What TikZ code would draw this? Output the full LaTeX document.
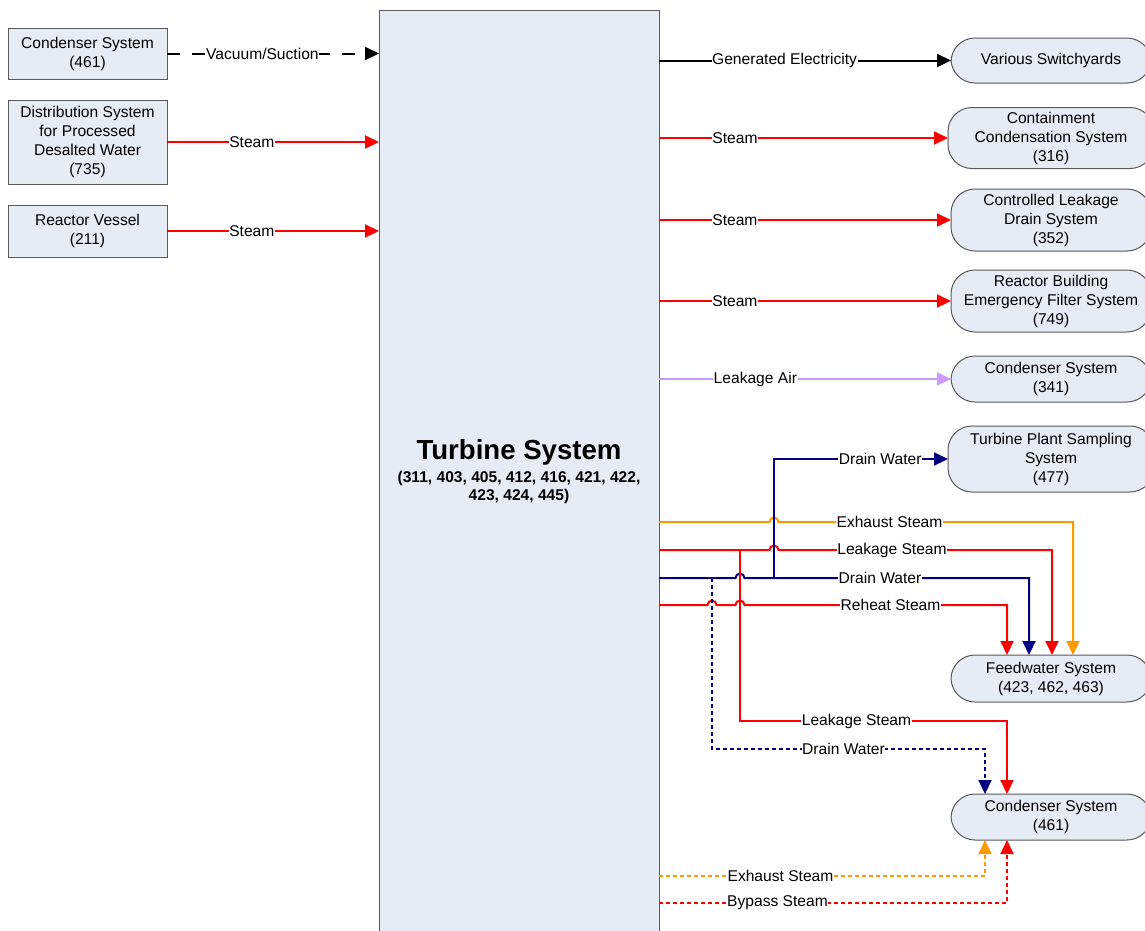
\documentclass[tikz,border=0pt]{standalone}
\usepackage{fontspec}
\setmainfont{Liberation Sans}
\usetikzlibrary{arrows.meta}
\definecolor{boxfill}{HTML}{E6ECF6}
\definecolor{boxline}{HTML}{5A5A5A}
\definecolor{navy}{HTML}{000080}
\definecolor{amber}{HTML}{FF9900}
\definecolor{lilac}{HTML}{CC99FF}

\begin{document}
\begin{tikzpicture}[x=1pt,y=-1pt,
    every node/.style={font=\fontsize{15.6}{19}\selectfont},
    sysbox/.style={draw=boxline,fill=boxfill,line width=1pt,align=center,
        minimum width=159pt,inner sep=0pt,outer sep=0pt},
    sysround/.style={sysbox,rounded corners=24pt,minimum width=200pt},
    lbl/.style={fill=white,text=black,inner sep=0.6pt},
    flow/.style={line width=2pt,-{Triangle[length=14pt,width=13pt]}},
    dotty/.style={dash pattern=on 4pt off 3pt}]
    \fill[white] (0,0) rectangle (1145,930);
    \useasboundingbox (0,0) rectangle (1145,930);

    % turbine
    \node[sysbox,minimum width=280pt,minimum height=940pt] (turb) at (519,480) {};
    \node (ttl) at (519,452) {\fontsize{27.6}{30}\selectfont\bfseries Turbine System};
    \node[align=center,font=\fontsize{15.6}{18}\selectfont\bfseries] (tnum) at (519,487) {(311, 403, 405, 412, 416, 421, 422,\\423, 424, 445)};

    % inputs
    \node[sysbox,minimum height=51pt] (cin) at (87.5,53.5) {Condenser System\\(461)};
    \node[sysbox,minimum height=84pt] (dist) at (87.5,142) {Distribution System\\for Processed\\Desalted Water\\(735)};
    \node[sysbox,minimum height=52pt] (rv) at (87.5,231) {Reactor Vessel\\(211)};

    \draw[flow,dash pattern=on 13pt off 12pt] (cin) -- node[lbl,pos=0.45] (lvac) {Vacuum/Suction} (turb.west |- cin);
    \draw[flow,red] (dist) -- node[lbl,pos=0.4] (lst1) {Steam} (turb.west |- dist);
    \draw[flow,red] (rv) -- node[lbl,pos=0.4] (lst2) {Steam} (turb.west |- rv);

    % outputs
    \node[sysround,minimum height=45pt] (swy) at (1051,60.5) {Various Switchyards};
    \node[sysround,minimum width=206pt,minimum height=61pt] (ccs) at (1051,138) {Containment\\Condensation System\\(316)};
    \node[sysround,minimum height=62pt] (cld) at (1051,220) {Controlled Leakage\\Drain System\\(352)};
    \node[sysround,minimum height=62pt] (rbe) at (1051,301) {Reactor Building\\Emergency Filter System\\(749)};
    \node[sysround,minimum height=46pt] (cda) at (1051,379) {Condenser System\\(341)};
    \node[sysround,minimum width=206pt,minimum height=66pt] (tps) at (1051,459) {Turbine Plant Sampling\\System\\(477)};
    \node[sysround,minimum height=47pt] (fws) at (1051,678.5) {Feedwater System\\(423, 462, 463)};
    \node[sysround,minimum height=46pt] (cdb) at (1051,817) {Condenser System\\(461)};

    \draw[flow] (turb.east |- swy) -- node[lbl,pos=0.43] (lgen) {Generated Electricity} (swy);
    \draw[flow,red] (turb.east |- ccs) -- node[lbl,pos=0.263] (lst3) {Steam} (ccs);
    \draw[flow,red] (turb.east |- cld) -- node[lbl,pos=0.26] (lst4) {Steam} (cld);
    \draw[flow,red] (turb.east |- rbe) -- node[lbl,pos=0.26] (lst5) {Steam} (rbe);
    \draw[flow,lilac] (turb.east |- cda) -- node[lbl,pos=0.33] (lair) {Leakage Air} (cda);

    % to feedwater, with hops
    \draw[flow,amber] (turb.east |- 0,522) -- (769.5,522) arc[start angle=180,end angle=0,radius=4.5pt] -- (1073,522) -- (1073,0 |- fws.north);
    \draw[flow,red] (turb.east |- 0,550) -- (769.5,550) arc[start angle=180,end angle=0,radius=4.5pt] -- (1052,550) -- (1052,0 |- fws.north);
    \draw[flow,navy] (turb.east |- 0,578) -- (735.5,578) arc[start angle=180,end angle=0,radius=4.5pt] -- (1029,578) -- (1029,0 |- fws.north);
    \draw[flow,red] (turb.east |- 0,605) -- (707.5,605) arc[start angle=180,end angle=0,radius=4.5pt] -- (735.5,605) arc[start angle=180,end angle=0,radius=4.5pt] -- (1007,605) -- (1007,0 |- fws.north);

    % branches
    \coordinate (dj) at (774,578);
    \coordinate (lj) at (740,550);
    \coordinate (dk) at (712,578);
    \draw[flow,navy] (dj) |- node[lbl,pos=0.805] (ldw1) {Drain Water} (tps);
    \draw[flow,red] (lj) |- (1007,721) -- (1007,0 |- cdb.north);
    \draw[flow,navy,dotty] (dk) |- (985,749) -- (985,0 |- cdb.north);

    % to condenser from below
    \draw[flow,amber,dotty] (turb.east |- 0,876) -| (985,0 |- cdb.south);
    \draw[flow,red,dotty] (turb.east |- 0,903) -| (1007,0 |- cdb.south);

    \node[lbl] (lexh1) at (889.5,522) {Exhaust Steam};
    \node[lbl] (llk1) at (892,550) {Leakage Steam};
    \node[lbl] (ldw2) at (880,578) {Drain Water};
    \node[lbl] (lrh) at (890.5,605) {Reheat Steam};
    \node[lbl] (llk2) at (856.5,721) {Leakage Steam};
    \node[lbl] (ldw3) at (843.5,749) {Drain Water};
    \node[lbl] (lexh2) at (780.5,876) {Exhaust Steam};
    \node[lbl] (lbyp) at (777.5,903) {Bypass Steam};
\end{tikzpicture}
\end{document}
